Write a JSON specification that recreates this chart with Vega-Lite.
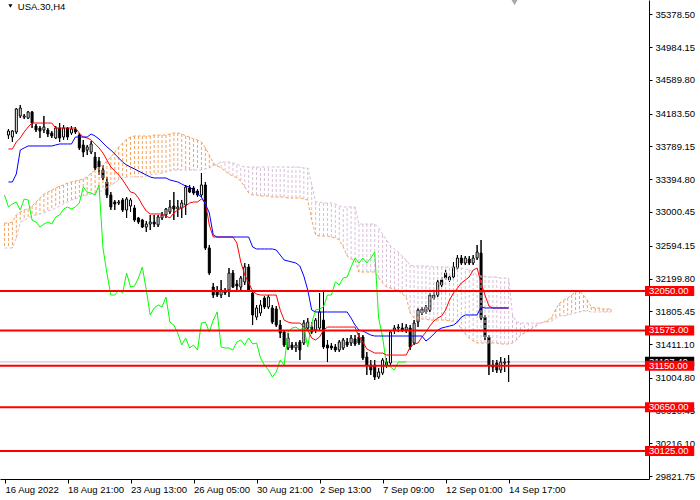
{
  "$schema": "https://vega.github.io/schema/vega-lite/v6.json",
  "width": 649,
  "height": 479,
  "autosize": "none",
  "padding": {"left": 0, "top": 0, "right": 51, "bottom": 21},
  "background": "white",
  "config": {"view": {"stroke": null}, "font": "Liberation Sans", "axis": {"labelOverlap": false, "grid": false, "title": null}},
  "datasets": {
    "bars": [
      {"i":0,"open":33926,"high":33998,"low":33878,"close":33974,"tenkan":33758,"kijun":33361},
      {"i":1,"open":33902,"high":33986,"low":33842,"close":33974,"tenkan":33758,"kijun":33361},
      {"i":2,"open":33962,"high":34251,"low":33938,"close":34239,"tenkan":33842,"kijun":33457},
      {"i":3,"open":34155,"high":34287,"low":34130,"close":34251,"tenkan":33890,"kijun":33745},
      {"i":4,"open":34142,"high":34179,"low":34118,"close":34155,"tenkan":33962,"kijun":33770},
      {"i":5,"open":34130,"high":34215,"low":34118,"close":34203,"tenkan":34022,"kijun":33794},
      {"i":6,"open":34203,"high":34215,"low":34010,"close":34070,"tenkan":34070,"kijun":33794},
      {"i":7,"open":34034,"high":34058,"low":33962,"close":33986,"tenkan":34070,"kijun":33794},
      {"i":8,"open":34010,"high":34034,"low":33890,"close":33974,"tenkan":34070,"kijun":33794},
      {"i":9,"open":33986,"high":34155,"low":33950,"close":34022,"tenkan":34070,"kijun":33794},
      {"i":10,"open":33986,"high":34010,"low":33902,"close":33938,"tenkan":34070,"kijun":33794},
      {"i":11,"open":33950,"high":33974,"low":33890,"close":33914,"tenkan":34070,"kijun":33794},
      {"i":12,"open":33890,"high":34034,"low":33878,"close":34010,"tenkan":34010,"kijun":33806},
      {"i":13,"open":34010,"high":34070,"low":33842,"close":33890,"tenkan":34010,"kijun":33818},
      {"i":14,"open":33902,"high":34046,"low":33866,"close":34010,"tenkan":34010,"kijun":33818},
      {"i":15,"open":34010,"high":34022,"low":33866,"close":33902,"tenkan":34010,"kijun":33818},
      {"i":16,"open":33950,"high":34034,"low":33926,"close":33998,"tenkan":34010,"kijun":33818},
      {"i":17,"open":33998,"high":34022,"low":33938,"close":33962,"tenkan":34010,"kijun":33902},
      {"i":18,"open":33926,"high":33950,"low":33745,"close":33770,"tenkan":33950,"kijun":33902},
      {"i":19,"open":33806,"high":33866,"low":33661,"close":33721,"tenkan":33902,"kijun":33902},
      {"i":20,"open":33745,"high":33806,"low":33685,"close":33782,"tenkan":33890,"kijun":33902},
      {"i":21,"open":33721,"high":33854,"low":33697,"close":33818,"tenkan":33866,"kijun":33938},
      {"i":22,"open":33661,"high":33721,"low":33505,"close":33529,"tenkan":33818,"kijun":33914},
      {"i":23,"open":33613,"high":33661,"low":33445,"close":33541,"tenkan":33770,"kijun":33878},
      {"i":24,"open":33505,"high":33565,"low":33385,"close":33409,"tenkan":33709,"kijun":33830},
      {"i":25,"open":33361,"high":33421,"low":33168,"close":33204,"tenkan":33625,"kijun":33782},
      {"i":26,"open":33204,"high":33240,"low":33024,"close":33060,"tenkan":33541,"kijun":33745},
      {"i":27,"open":33120,"high":33144,"low":33024,"close":33096,"tenkan":33493,"kijun":33697},
      {"i":28,"open":33108,"high":33144,"low":33084,"close":33120,"tenkan":33445,"kijun":33649},
      {"i":29,"open":33144,"high":33168,"low":33000,"close":33024,"tenkan":33385,"kijun":33601},
      {"i":30,"open":33024,"high":33180,"low":32928,"close":33156,"tenkan":33312,"kijun":33565},
      {"i":31,"open":33072,"high":33168,"low":33000,"close":33144,"tenkan":33240,"kijun":33541},
      {"i":32,"open":33048,"high":33084,"low":32879,"close":32903,"tenkan":33228,"kijun":33517},
      {"i":33,"open":32928,"high":32940,"low":32855,"close":32879,"tenkan":33168,"kijun":33493},
      {"i":34,"open":32903,"high":32916,"low":32807,"close":32819,"tenkan":33084,"kijun":33469},
      {"i":35,"open":32819,"high":32891,"low":32759,"close":32855,"tenkan":33012,"kijun":33445},
      {"i":36,"open":32855,"high":32964,"low":32783,"close":32879,"tenkan":32976,"kijun":33421},
      {"i":37,"open":32879,"high":32964,"low":32819,"close":32855,"tenkan":32976,"kijun":33409},
      {"i":38,"open":32843,"high":32964,"low":32819,"close":32940,"tenkan":32976,"kijun":33409},
      {"i":39,"open":32928,"high":33000,"low":32903,"close":32964,"tenkan":32976,"kijun":33409},
      {"i":40,"open":32964,"high":33048,"low":32928,"close":33036,"tenkan":32952,"kijun":33409},
      {"i":41,"open":33000,"high":33144,"low":32976,"close":33060,"tenkan":32928,"kijun":33385},
      {"i":42,"open":33072,"high":33240,"low":32903,"close":33036,"tenkan":32988,"kijun":33373},
      {"i":43,"open":33036,"high":33144,"low":32940,"close":33060,"tenkan":33024,"kijun":33361},
      {"i":44,"open":33048,"high":33144,"low":32928,"close":33108,"tenkan":33048,"kijun":33337},
      {"i":45,"open":33084,"high":33325,"low":32964,"close":33300,"tenkan":33072,"kijun":33312},
      {"i":46,"open":33288,"high":33325,"low":33228,"close":33240,"tenkan":33108,"kijun":33300},
      {"i":47,"open":33288,"high":33312,"low":33204,"close":33228,"tenkan":33120,"kijun":33264},
      {"i":48,"open":33252,"high":33276,"low":33180,"close":33204,"tenkan":33120,"kijun":33216},
      {"i":49,"open":33204,"high":33469,"low":33180,"close":33325,"tenkan":33156,"kijun":33180},
      {"i":50,"open":33325,"high":33361,"low":32543,"close":32567,"tenkan":33120,"kijun":33096},
      {"i":51,"open":32567,"high":32603,"low":32242,"close":32266,"tenkan":32843,"kijun":32988},
      {"i":52,"open":32097,"high":32146,"low":31965,"close":32001,"tenkan":32699,"kijun":32723},
      {"i":53,"open":32037,"high":32109,"low":31977,"close":32001,"tenkan":32699,"kijun":32699},
      {"i":54,"open":32001,"high":32182,"low":31965,"close":32061,"tenkan":32699,"kijun":32699},
      {"i":55,"open":32037,"high":32085,"low":32001,"close":32025,"tenkan":32699,"kijun":32699},
      {"i":56,"open":32061,"high":32326,"low":31977,"close":32266,"tenkan":32699,"kijun":32699},
      {"i":57,"open":32266,"high":32302,"low":32085,"close":32097,"tenkan":32699,"kijun":32699},
      {"i":58,"open":32134,"high":32182,"low":32061,"close":32109,"tenkan":32627,"kijun":32699},
      {"i":59,"open":32097,"high":32230,"low":32061,"close":32206,"tenkan":32398,"kijun":32699},
      {"i":60,"open":32158,"high":32386,"low":32122,"close":32338,"tenkan":32242,"kijun":32699},
      {"i":61,"open":32338,"high":32374,"low":32037,"close":32061,"tenkan":32146,"kijun":32699},
      {"i":62,"open":32025,"high":32061,"low":31640,"close":31761,"tenkan":32049,"kijun":32579},
      {"i":63,"open":31736,"high":31881,"low":31700,"close":31845,"tenkan":32013,"kijun":32555},
      {"i":64,"open":31785,"high":31941,"low":31749,"close":31881,"tenkan":32001,"kijun":32555},
      {"i":65,"open":31965,"high":31989,"low":31833,"close":31857,"tenkan":32001,"kijun":32555},
      {"i":66,"open":31857,"high":32001,"low":31833,"close":31977,"tenkan":32001,"kijun":32555},
      {"i":67,"open":31845,"high":31881,"low":31652,"close":31676,"tenkan":32001,"kijun":32555},
      {"i":68,"open":31833,"high":31869,"low":31616,"close":31640,"tenkan":32001,"kijun":32543},
      {"i":69,"open":31640,"high":31700,"low":31484,"close":31544,"tenkan":31821,"kijun":32482},
      {"i":70,"open":31556,"high":31580,"low":31376,"close":31400,"tenkan":31700,"kijun":32422},
      {"i":71,"open":31364,"high":31544,"low":31340,"close":31484,"tenkan":31676,"kijun":32410},
      {"i":72,"open":31400,"high":31436,"low":31340,"close":31364,"tenkan":31664,"kijun":32398},
      {"i":73,"open":31364,"high":31436,"low":31316,"close":31400,"tenkan":31664,"kijun":32386},
      {"i":74,"open":31436,"high":31460,"low":31219,"close":31340,"tenkan":31664,"kijun":32350},
      {"i":75,"open":31424,"high":31700,"low":31400,"close":31664,"tenkan":31616,"kijun":32230},
      {"i":76,"open":31604,"high":31724,"low":31580,"close":31676,"tenkan":31580,"kijun":32061},
      {"i":77,"open":31616,"high":31676,"low":31532,"close":31556,"tenkan":31484,"kijun":31821},
      {"i":78,"open":31580,"high":31724,"low":31544,"close":31700,"tenkan":31460,"kijun":31797},
      {"i":79,"open":31604,"high":32025,"low":31580,"close":31797,"tenkan":31496,"kijun":31797},
      {"i":80,"open":31700,"high":32037,"low":31352,"close":31376,"tenkan":31580,"kijun":31797},
      {"i":81,"open":31400,"high":31460,"low":31195,"close":31364,"tenkan":31616,"kijun":31797},
      {"i":82,"open":31388,"high":31424,"low":31340,"close":31364,"tenkan":31616,"kijun":31797},
      {"i":83,"open":31376,"high":31412,"low":31316,"close":31340,"tenkan":31616,"kijun":31797},
      {"i":84,"open":31340,"high":31460,"low":31316,"close":31436,"tenkan":31616,"kijun":31797},
      {"i":85,"open":31364,"high":31484,"low":31340,"close":31460,"tenkan":31616,"kijun":31797},
      {"i":86,"open":31436,"high":31484,"low":31376,"close":31400,"tenkan":31616,"kijun":31797},
      {"i":87,"open":31424,"high":31520,"low":31388,"close":31484,"tenkan":31616,"kijun":31724},
      {"i":88,"open":31472,"high":31520,"low":31388,"close":31412,"tenkan":31616,"kijun":31640},
      {"i":89,"open":31496,"high":31544,"low":31400,"close":31424,"tenkan":31496,"kijun":31580},
      {"i":90,"open":31496,"high":31520,"low":31219,"close":31243,"tenkan":31436,"kijun":31568},
      {"i":91,"open":31255,"high":31316,"low":31039,"close":31159,"tenkan":31352,"kijun":31544},
      {"i":92,"open":31159,"high":31219,"low":31039,"close":31099,"tenkan":31328,"kijun":31520},
      {"i":93,"open":31159,"high":31219,"low":30979,"close":31015,"tenkan":31303,"kijun":31508},
      {"i":94,"open":31015,"high":31123,"low":30991,"close":31075,"tenkan":31303,"kijun":31508},
      {"i":95,"open":31063,"high":31243,"low":31039,"close":31219,"tenkan":31303,"kijun":31508},
      {"i":96,"open":31195,"high":31243,"low":31123,"close":31159,"tenkan":31279,"kijun":31508},
      {"i":97,"open":31183,"high":31580,"low":31159,"close":31556,"tenkan":31279,"kijun":31508},
      {"i":98,"open":31580,"high":31640,"low":31532,"close":31604,"tenkan":31279,"kijun":31508},
      {"i":99,"open":31604,"high":31652,"low":31556,"close":31616,"tenkan":31279,"kijun":31508},
      {"i":100,"open":31604,"high":31664,"low":31556,"close":31580,"tenkan":31279,"kijun":31508},
      {"i":101,"open":31580,"high":31652,"low":31544,"close":31616,"tenkan":31279,"kijun":31508},
      {"i":102,"open":31604,"high":31640,"low":31340,"close":31376,"tenkan":31376,"kijun":31508},
      {"i":103,"open":31424,"high":31700,"low":31400,"close":31664,"tenkan":31412,"kijun":31508},
      {"i":104,"open":31676,"high":31845,"low":31616,"close":31821,"tenkan":31424,"kijun":31508},
      {"i":105,"open":31785,"high":31857,"low":31761,"close":31833,"tenkan":31496,"kijun":31508},
      {"i":106,"open":31797,"high":31881,"low":31773,"close":31857,"tenkan":31556,"kijun":31448},
      {"i":107,"open":31821,"high":32025,"low":31797,"close":32001,"tenkan":31628,"kijun":31484},
      {"i":108,"open":31965,"high":32037,"low":31941,"close":32001,"tenkan":31688,"kijun":31532},
      {"i":109,"open":32001,"high":32182,"low":31977,"close":32158,"tenkan":31724,"kijun":31580},
      {"i":110,"open":32182,"high":32218,"low":32097,"close":32122,"tenkan":31749,"kijun":31604},
      {"i":111,"open":32266,"high":32302,"low":32182,"close":32206,"tenkan":31821,"kijun":31616},
      {"i":112,"open":32182,"high":32254,"low":32158,"close":32218,"tenkan":31941,"kijun":31628},
      {"i":113,"open":32218,"high":32398,"low":32182,"close":32338,"tenkan":32025,"kijun":31640},
      {"i":114,"open":32326,"high":32482,"low":32302,"close":32446,"tenkan":32085,"kijun":31676},
      {"i":115,"open":32446,"high":32482,"low":32362,"close":32386,"tenkan":32146,"kijun":31736},
      {"i":116,"open":32386,"high":32470,"low":32362,"close":32446,"tenkan":32182,"kijun":31761},
      {"i":117,"open":32434,"high":32470,"low":32362,"close":32386,"tenkan":32218,"kijun":31761},
      {"i":118,"open":32386,"high":32482,"low":32362,"close":32446,"tenkan":32302,"kijun":31761},
      {"i":119,"open":32446,"high":32603,"low":32422,"close":32518,"tenkan":32326,"kijun":31761},
      {"i":120,"open":32506,"high":32663,"low":31700,"close":31724,"tenkan":32146,"kijun":31857},
      {"i":121,"open":31736,"high":31761,"low":31460,"close":31496,"tenkan":32001,"kijun":31845},
      {"i":122,"open":31496,"high":31520,"low":31039,"close":31159,"tenkan":31869,"kijun":31845},
      {"i":123,"open":31159,"high":31219,"low":31075,"close":31135,"tenkan":31845,"kijun":31845},
      {"i":124,"open":31183,"high":31219,"low":31063,"close":31099,"tenkan":31845,"kijun":31845},
      {"i":125,"open":31099,"high":31255,"low":31063,"close":31195,"tenkan":31845,"kijun":31845},
      {"i":126,"open":31183,"high":31243,"low":31075,"close":31195,"tenkan":31845,"kijun":31845},
      {"i":127,"open":31195,"high":31279,"low":30955,"close":31197,"tenkan":31845,"kijun":31845}
    ],
    "cloud": [
      {"i":-1,"spanA":32867,"spanB":32567,"chikou":33204},
      {"i":0,"spanA":32867,"spanB":32567,"chikou":33060},
      {"i":1,"spanA":32879,"spanB":32567,"chikou":33096},
      {"i":2,"spanA":32964,"spanB":32687,"chikou":33120},
      {"i":3,"spanA":33000,"spanB":32879,"chikou":33024},
      {"i":4,"spanA":33024,"spanB":32903,"chikou":33156},
      {"i":5,"spanA":33036,"spanB":32928,"chikou":33144},
      {"i":6,"spanA":33072,"spanB":32952,"chikou":32903},
      {"i":7,"spanA":33120,"spanB":32964,"chikou":32879},
      {"i":8,"spanA":33168,"spanB":32976,"chikou":32819},
      {"i":9,"spanA":33216,"spanB":32988,"chikou":32855},
      {"i":10,"spanA":33240,"spanB":33012,"chikou":32879},
      {"i":11,"spanA":33264,"spanB":33024,"chikou":32855},
      {"i":12,"spanA":33288,"spanB":33048,"chikou":32940},
      {"i":13,"spanA":33312,"spanB":33072,"chikou":32964},
      {"i":14,"spanA":33325,"spanB":33096,"chikou":33036},
      {"i":15,"spanA":33349,"spanB":33120,"chikou":33060},
      {"i":16,"spanA":33361,"spanB":33144,"chikou":33036},
      {"i":17,"spanA":33373,"spanB":33156,"chikou":33060},
      {"i":18,"spanA":33385,"spanB":33180,"chikou":33108},
      {"i":19,"spanA":33397,"spanB":33192,"chikou":33300},
      {"i":20,"spanA":33421,"spanB":33204,"chikou":33240},
      {"i":21,"spanA":33469,"spanB":33216,"chikou":33228},
      {"i":22,"spanA":33505,"spanB":33228,"chikou":33204},
      {"i":23,"spanA":33541,"spanB":33240,"chikou":33325},
      {"i":24,"spanA":33565,"spanB":33264,"chikou":32567},
      {"i":25,"spanA":33613,"spanB":33288,"chikou":32266},
      {"i":26,"spanA":33661,"spanB":33325,"chikou":32001},
      {"i":27,"spanA":33721,"spanB":33349,"chikou":32001},
      {"i":28,"spanA":33782,"spanB":33385,"chikou":32061},
      {"i":29,"spanA":33830,"spanB":33409,"chikou":32025},
      {"i":30,"spanA":33878,"spanB":33421,"chikou":32266},
      {"i":31,"spanA":33902,"spanB":33421,"chikou":32097},
      {"i":32,"spanA":33914,"spanB":33421,"chikou":32109},
      {"i":33,"spanA":33914,"spanB":33421,"chikou":32206},
      {"i":34,"spanA":33914,"spanB":33421,"chikou":32338},
      {"i":35,"spanA":33914,"spanB":33433,"chikou":32061},
      {"i":36,"spanA":33914,"spanB":33445,"chikou":31761},
      {"i":37,"spanA":33926,"spanB":33457,"chikou":31845},
      {"i":38,"spanA":33926,"spanB":33457,"chikou":31881},
      {"i":39,"spanA":33926,"spanB":33469,"chikou":31857},
      {"i":40,"spanA":33926,"spanB":33481,"chikou":31977},
      {"i":41,"spanA":33938,"spanB":33493,"chikou":31676},
      {"i":42,"spanA":33950,"spanB":33505,"chikou":31640},
      {"i":43,"spanA":33950,"spanB":33505,"chikou":31544},
      {"i":44,"spanA":33938,"spanB":33505,"chikou":31400},
      {"i":45,"spanA":33914,"spanB":33505,"chikou":31484},
      {"i":46,"spanA":33902,"spanB":33505,"chikou":31364},
      {"i":47,"spanA":33878,"spanB":33505,"chikou":31400},
      {"i":48,"spanA":33866,"spanB":33505,"chikou":31340},
      {"i":49,"spanA":33842,"spanB":33505,"chikou":31664},
      {"i":50,"spanA":33770,"spanB":33517,"chikou":31676},
      {"i":51,"spanA":33685,"spanB":33529,"chikou":31556},
      {"i":52,"spanA":33589,"spanB":33553,"chikou":31700},
      {"i":53,"spanA":33553,"spanB":33577,"chikou":31797},
      {"i":54,"spanA":33529,"spanB":33601,"chikou":31376},
      {"i":55,"spanA":33493,"spanB":33601,"chikou":31364},
      {"i":56,"spanA":33457,"spanB":33601,"chikou":31364},
      {"i":57,"spanA":33433,"spanB":33589,"chikou":31340},
      {"i":58,"spanA":33409,"spanB":33577,"chikou":31436},
      {"i":59,"spanA":33373,"spanB":33553,"chikou":31460},
      {"i":60,"spanA":33300,"spanB":33541,"chikou":31400},
      {"i":61,"spanA":33228,"spanB":33541,"chikou":31484},
      {"i":62,"spanA":33204,"spanB":33541,"chikou":31412},
      {"i":63,"spanA":33204,"spanB":33541,"chikou":31424},
      {"i":64,"spanA":33192,"spanB":33541,"chikou":31243},
      {"i":65,"spanA":33192,"spanB":33541,"chikou":31159},
      {"i":66,"spanA":33192,"spanB":33541,"chikou":31099},
      {"i":67,"spanA":33180,"spanB":33541,"chikou":31015},
      {"i":68,"spanA":33180,"spanB":33541,"chikou":31075},
      {"i":69,"spanA":33180,"spanB":33541,"chikou":31219},
      {"i":70,"spanA":33180,"spanB":33541,"chikou":31159},
      {"i":71,"spanA":33168,"spanB":33541,"chikou":31556},
      {"i":72,"spanA":33168,"spanB":33541,"chikou":31604},
      {"i":73,"spanA":33168,"spanB":33541,"chikou":31616},
      {"i":74,"spanA":33168,"spanB":33541,"chikou":31580},
      {"i":75,"spanA":33156,"spanB":33529,"chikou":31616},
      {"i":76,"spanA":33144,"spanB":33529,"chikou":31376},
      {"i":77,"spanA":32903,"spanB":33337,"chikou":31664},
      {"i":78,"spanA":32723,"spanB":33120,"chikou":31821},
      {"i":79,"spanA":32711,"spanB":33120,"chikou":31833},
      {"i":80,"spanA":32711,"spanB":33108,"chikou":31857},
      {"i":81,"spanA":32711,"spanB":33108,"chikou":32001},
      {"i":82,"spanA":32699,"spanB":33108,"chikou":32001},
      {"i":83,"spanA":32687,"spanB":33096,"chikou":32158},
      {"i":84,"spanA":32663,"spanB":33072,"chikou":32122},
      {"i":85,"spanA":32579,"spanB":33060,"chikou":32206},
      {"i":86,"spanA":32470,"spanB":33060,"chikou":32218},
      {"i":87,"spanA":32434,"spanB":33060,"chikou":32338},
      {"i":88,"spanA":32422,"spanB":33060,"chikou":32446},
      {"i":89,"spanA":32278,"spanB":32855,"chikou":32386},
      {"i":90,"spanA":32278,"spanB":32855,"chikou":32446},
      {"i":91,"spanA":32278,"spanB":32855,"chikou":32386},
      {"i":92,"spanA":32278,"spanB":32855,"chikou":32446},
      {"i":93,"spanA":32278,"spanB":32855,"chikou":32518},
      {"i":94,"spanA":32206,"spanB":32807,"chikou":31724},
      {"i":95,"spanA":32146,"spanB":32735,"chikou":31496},
      {"i":96,"spanA":32097,"spanB":32663,"chikou":31159},
      {"i":97,"spanA":32085,"spanB":32591,"chikou":31135},
      {"i":98,"spanA":32073,"spanB":32555,"chikou":31099},
      {"i":99,"spanA":32049,"spanB":32518,"chikou":31195},
      {"i":100,"spanA":32013,"spanB":32470,"chikou":31195},
      {"i":101,"spanA":31977,"spanB":32422,"chikou":31197},
      {"i":102,"spanA":31785,"spanB":32362},
      {"i":103,"spanA":31724,"spanB":32350},
      {"i":104,"spanA":31712,"spanB":32350},
      {"i":105,"spanA":31712,"spanB":32350},
      {"i":106,"spanA":31712,"spanB":32350},
      {"i":107,"spanA":31700,"spanB":32350},
      {"i":108,"spanA":31700,"spanB":32338},
      {"i":109,"spanA":31700,"spanB":32338},
      {"i":110,"spanA":31700,"spanB":32338},
      {"i":111,"spanA":31700,"spanB":32338},
      {"i":112,"spanA":31688,"spanB":32338},
      {"i":113,"spanA":31688,"spanB":32326},
      {"i":114,"spanA":31676,"spanB":32326},
      {"i":115,"spanA":31580,"spanB":32326},
      {"i":116,"spanA":31532,"spanB":32314},
      {"i":117,"spanA":31484,"spanB":32302},
      {"i":118,"spanA":31448,"spanB":32278},
      {"i":119,"spanA":31424,"spanB":32242},
      {"i":120,"spanA":31424,"spanB":32230},
      {"i":121,"spanA":31424,"spanB":32230},
      {"i":122,"spanA":31424,"spanB":32218},
      {"i":123,"spanA":31424,"spanB":32218},
      {"i":124,"spanA":31424,"spanB":32218},
      {"i":125,"spanA":31412,"spanB":32206},
      {"i":126,"spanA":31412,"spanB":32206},
      {"i":127,"spanA":31412,"spanB":32206},
      {"i":128,"spanA":31424,"spanB":31761},
      {"i":129,"spanA":31460,"spanB":31676},
      {"i":130,"spanA":31520,"spanB":31664},
      {"i":131,"spanA":31544,"spanB":31664},
      {"i":132,"spanA":31568,"spanB":31664},
      {"i":133,"spanA":31604,"spanB":31664},
      {"i":134,"spanA":31628,"spanB":31664},
      {"i":135,"spanA":31664,"spanB":31664},
      {"i":136,"spanA":31676,"spanB":31676},
      {"i":137,"spanA":31700,"spanB":31676},
      {"i":138,"spanA":31736,"spanB":31688},
      {"i":139,"spanA":31833,"spanB":31724},
      {"i":140,"spanA":31905,"spanB":31749},
      {"i":141,"spanA":31941,"spanB":31749},
      {"i":142,"spanA":31965,"spanB":31761},
      {"i":143,"spanA":32001,"spanB":31773},
      {"i":144,"spanA":32037,"spanB":31785},
      {"i":145,"spanA":32049,"spanB":31797},
      {"i":146,"spanA":32001,"spanB":31809},
      {"i":147,"spanA":31941,"spanB":31809},
      {"i":148,"spanA":31857,"spanB":31797},
      {"i":149,"spanA":31845,"spanB":31797},
      {"i":150,"spanA":31845,"spanB":31797},
      {"i":151,"spanA":31833,"spanB":31797},
      {"i":152,"spanA":31833,"spanB":31797},
      {"i":153,"spanA":31833,"spanB":31797}
    ],
    "levels": [
      {"price": 32050, "label": "32050.00"},
      {"price": 31575, "label": "31575.00"},
      {"price": 31150, "label": "31150.00"},
      {"price": 30650, "label": "30650.00"},
      {"price": 30125, "label": "30125.00"}
    ],
    "current": [
      {"price": 31197, "label": "31197.40"}
    ]
  },
  "layer": [
    {
      "data": {"name": "bars"},
      "mark": {"type": "rule", "color": "#000000", "strokeWidth": 1},
      "encoding": {
        "x": {
          "field": "i", "type": "quantitative",
          "scale": {"domain": [-0.875, 161.375], "nice": false, "zero": false},
          "axis": {
            "orient": "bottom", "title": null, "grid": false, "tickCount": 40,
            "values": [-0.875, 15, 31, 47, 63, 79, 95, 111, 127],
            "labelExpr": "['16 Aug 2022','18 Aug 21:00','23 Aug 13:00','26 Aug 05:00','30 Aug 21:00','2 Sep 13:00','7 Sep 09:00','12 Sep 01:00','14 Sep 17:00'][indexof([-0.875, 15, 31, 47, 63, 79, 95, 111, 127], datum.value)]",
            "labelAlign": "left", "labelBaseline": "top", "tickSize": 4, "labelPadding": 1,
            "labelFont": "Liberation Sans", "labelFontSize": 9.5, "labelColor": "#000000",
            "domainColor": "#000000", "tickColor": "#000000",
            "labelOverlap": false, "labelBound": false, "labelFlush": false
          }
        },
        "y": {
          "field": "low", "type": "quantitative",
          "scale": {"domain": [29788, 35550], "nice": false, "zero": false},
          "axis": {
            "orient": "right", "title": null, "grid": false, "tickCount": 40,
            "values": [35378.5, 34984.15, 34589.8, 34183.5, 33789.15, 33394.8, 33000.45, 32594.15, 32199.8, 31805.45, 31411.1, 31004.8, 30610.45, 30216.1, 29821.75],
            "format": ".2f", "tickSize": 3, "labelPadding": 3, "labelBaseline": "middle",
            "labelFont": "Liberation Sans", "labelFontSize": 9.5, "labelColor": "#000000",
            "domainColor": "#000000", "tickColor": "#000000",
            "labelOverlap": false, "labelBound": false, "labelFlush": false
          }
        },
        "y2": {"field": "high"}
      }
    },
    {
      "data": {"name": "current"},
      "mark": {"type": "rule", "color": "#c0c0c0", "strokeWidth": 1},
      "encoding": {
        "y": {"field": "price", "type": "quantitative", "scale": {"domain": [29788, 35550], "nice": false, "zero": false}}
      }
    },
    {
      "data": {"name": "bars"},
      "mark": {"type": "rule", "color": "#000000", "strokeWidth": 1},
      "encoding": {
        "x": {"field": "i", "type": "quantitative", "scale": {"domain": [-0.875, 161.375], "nice": false, "zero": false}},
        "y": {"field": "low", "type": "quantitative", "scale": {"domain": [29788, 35550], "nice": false, "zero": false}},
        "y2": {"field": "high"}
      }
    },
    {
      "data": {"name": "bars"},
      "mark": {"type": "bar", "width": 2, "stroke": "#000000", "strokeWidth": 1, "orient": "vertical"},
      "encoding": {
        "x": {"field": "i", "type": "quantitative", "scale": {"domain": [-0.875, 161.375], "nice": false, "zero": false}},
        "y": {"field": "open", "type": "quantitative", "scale": {"domain": [29788, 35550], "nice": false, "zero": false}},
        "y2": {"field": "close"},
        "fill": {"condition": {"test": "datum.close < datum.open", "value": "#000000"}, "value": "#ffffff"}
      }
    },
    {
      "data": {"name": "cloud"},
      "mark": {"type": "rule", "strokeWidth": 1, "strokeDash": [3, 2], "clip": true},
      "encoding": {
        "x": {"field": "i", "type": "quantitative", "scale": {"domain": [-0.875, 161.375], "nice": false, "zero": false}},
        "y": {"field": "spanA", "type": "quantitative", "scale": {"domain": [29788, 35550], "nice": false, "zero": false}},
        "y2": {"field": "spanB"},
        "color": {"condition": {"test": "datum.spanA >= datum.spanB", "value": "#f4a460"}, "value": "#d8bfd8"}
      }
    },
    {
      "data": {"name": "cloud"},
      "mark": {"type": "line", "color": "#f4a460", "strokeWidth": 1, "strokeDash": [3, 2], "clip": true},
      "encoding": {
        "x": {"field": "i", "type": "quantitative", "scale": {"domain": [-0.875, 161.375], "nice": false, "zero": false}},
        "y": {"field": "spanA", "type": "quantitative", "scale": {"domain": [29788, 35550], "nice": false, "zero": false}}
      }
    },
    {
      "data": {"name": "cloud"},
      "mark": {"type": "line", "color": "#d8bfd8", "strokeWidth": 1, "strokeDash": [3, 2], "clip": true},
      "encoding": {
        "x": {"field": "i", "type": "quantitative", "scale": {"domain": [-0.875, 161.375], "nice": false, "zero": false}},
        "y": {"field": "spanB", "type": "quantitative", "scale": {"domain": [29788, 35550], "nice": false, "zero": false}}
      }
    },
    {
      "data": {"name": "cloud"},
      "mark": {"type": "line", "color": "#00ff00", "strokeWidth": 1, "clip": true},
      "encoding": {
        "x": {"field": "i", "type": "quantitative", "scale": {"domain": [-0.875, 161.375], "nice": false, "zero": false}},
        "y": {"field": "chikou", "type": "quantitative", "scale": {"domain": [29788, 35550], "nice": false, "zero": false}}
      }
    },
    {
      "data": {"name": "bars"},
      "mark": {"type": "line", "color": "#ff0000", "strokeWidth": 1, "clip": true},
      "encoding": {
        "x": {"field": "i", "type": "quantitative", "scale": {"domain": [-0.875, 161.375], "nice": false, "zero": false}},
        "y": {"field": "tenkan", "type": "quantitative", "scale": {"domain": [29788, 35550], "nice": false, "zero": false}}
      }
    },
    {
      "data": {"name": "bars"},
      "mark": {"type": "line", "color": "#0000ff", "strokeWidth": 1, "clip": true},
      "encoding": {
        "x": {"field": "i", "type": "quantitative", "scale": {"domain": [-0.875, 161.375], "nice": false, "zero": false}},
        "y": {"field": "kijun", "type": "quantitative", "scale": {"domain": [29788, 35550], "nice": false, "zero": false}}
      }
    },
    {
      "data": {"name": "levels"},
      "mark": {"type": "rule", "color": "#ff0000", "strokeWidth": 2},
      "encoding": {
        "y": {"field": "price", "type": "quantitative", "scale": {"domain": [29788, 35550], "nice": false, "zero": false}}
      }
    },
    {
      "data": {"name": "current"},
      "mark": {"type": "rule", "color": "#000000", "strokeWidth": 10},
      "encoding": {
        "x": {"datum": 161.625, "type": "quantitative", "scale": {"domain": [-0.875, 161.375], "nice": false, "zero": false}},
        "x2": {"datum": 174.125},
        "y": {"field": "price", "type": "quantitative", "scale": {"domain": [29788, 35550], "nice": false, "zero": false}}
      }
    },
    {
      "data": {"name": "current"},
      "mark": {"type": "text", "color": "#ffffff", "align": "left", "baseline": "middle", "font": "Liberation Sans", "fontSize": 9.5},
      "encoding": {
        "x": {"datum": 162.625, "type": "quantitative", "scale": {"domain": [-0.875, 161.375], "nice": false, "zero": false}},
        "y": {"field": "price", "type": "quantitative", "scale": {"domain": [29788, 35550], "nice": false, "zero": false}},
        "text": {"field": "label"}
      }
    },
    {
      "data": {"name": "levels"},
      "mark": {"type": "rule", "color": "#ff0000", "strokeWidth": 10},
      "encoding": {
        "x": {"datum": 161.625, "type": "quantitative", "scale": {"domain": [-0.875, 161.375], "nice": false, "zero": false}},
        "x2": {"datum": 174.125},
        "y": {"field": "price", "type": "quantitative", "scale": {"domain": [29788, 35550], "nice": false, "zero": false}}
      }
    },
    {
      "data": {"name": "levels"},
      "mark": {"type": "text", "color": "#ffffff", "align": "left", "baseline": "middle", "font": "Liberation Sans", "fontSize": 9.5},
      "encoding": {
        "x": {"datum": 162.625, "type": "quantitative", "scale": {"domain": [-0.875, 161.375], "nice": false, "zero": false}},
        "y": {"field": "price", "type": "quantitative", "scale": {"domain": [29788, 35550], "nice": false, "zero": false}},
        "text": {"field": "label"}
      }
    },
    {
      "data": {"values": [{"sym": "USA.30,H4"}]},
      "mark": {"type": "text", "color": "#000000", "align": "left", "baseline": "middle", "font": "Liberation Sans", "fontSize": 9.5},
      "encoding": {
        "x": {"datum": 2.375, "type": "quantitative", "scale": {"domain": [-0.875, 161.375], "nice": false, "zero": false}},
        "y": {"datum": 35466, "type": "quantitative", "scale": {"domain": [29788, 35550], "nice": false, "zero": false}},
        "text": {"field": "sym"}
      }
    },
    {
      "data": {"values": [{"tint": "#000000", "px": 0.5, "py": 35478, "s": 16}, {"tint": "#aaaaaa", "px": 128.5, "py": 35526, "s": 55}]},
      "mark": {"type": "point", "filled": true, "shape": "triangle-down", "opacity": 1},
      "encoding": {
        "x": {"field": "px", "type": "quantitative", "scale": {"domain": [-0.875, 161.375], "nice": false, "zero": false}},
        "y": {"field": "py", "type": "quantitative", "scale": {"domain": [29788, 35550], "nice": false, "zero": false}},
        "color": {"field": "tint", "type": "nominal", "scale": null, "legend": null},
        "size": {"field": "s", "type": "quantitative", "scale": null, "legend": null}
      }
    }
  ]
}
